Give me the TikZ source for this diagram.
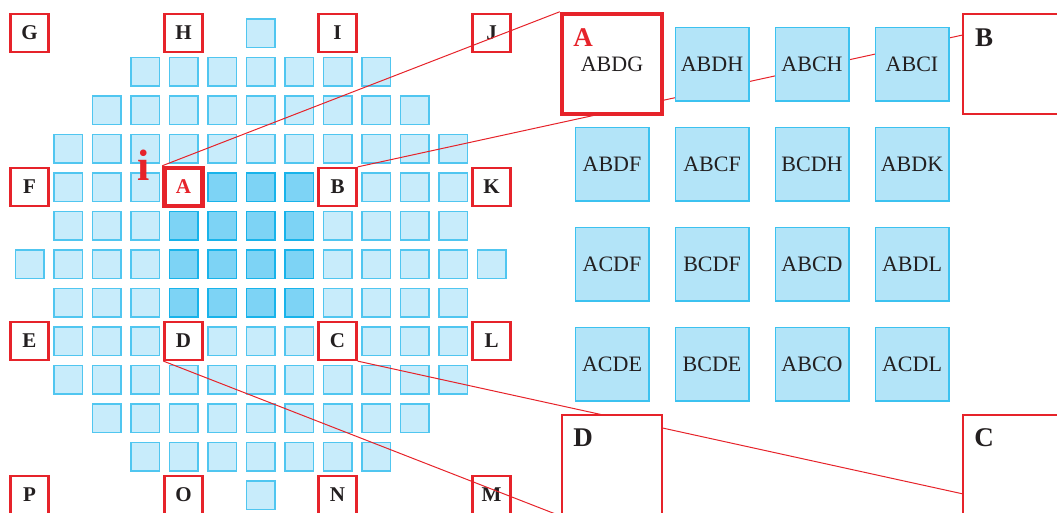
\documentclass[tikz,border=0pt]{standalone}
\usepackage{fontspec}
\setmainfont{Liberation Serif}
\definecolor{boxred}{HTML}{E6232A}
\definecolor{ink}{HTML}{231F20}
\definecolor{cellfill}{HTML}{C8ECFB}
\definecolor{cellstroke}{HTML}{50C6F0}
\definecolor{darkfill}{HTML}{7DD3F5}
\definecolor{darkstroke}{HTML}{18B3EA}
\definecolor{pfill}{HTML}{B3E4F8}
\definecolor{pstroke}{HTML}{3CC2F0}
\pgfdeclarelayer{front}
\pgfsetlayers{main,front}
\begin{document}
\begin{tikzpicture}[x=1pt,y=-1pt,
  lcell/.style={draw=cellstroke, fill=cellfill, line width=1.5pt, minimum size=28.5pt, inner sep=0pt, outer sep=0pt},
  dcell/.style={lcell, draw=darkstroke, fill=darkfill},
  lbox/.style={draw=boxred, fill=white, line width=2.2pt, minimum size=38pt, inner sep=0pt, text=ink, font=\bfseries\fontsize{21}{21}\selectfont},
  abox/.style={lbox, line width=4.5pt, text=boxred},
  pcell/.style={draw=pstroke, fill=pfill, line width=1.5pt, minimum size=73.5pt, inner sep=0pt, text=ink, font=\fontsize{22}{22}\selectfont},
  bigbox/.style={draw=boxred, fill=white, line width=2.2pt, minimum size=100pt, inner sep=0pt, text=ink, font=\fontsize{22}{22}\selectfont},
  biglbl/.style={inner sep=0pt, text=ink, font=\bfseries\fontsize{27}{27}\selectfont},
  zline/.style={draw=boxred, line width=1pt}]
\useasboundingbox (0,0) rectangle (1057,512);
% left grid
\foreach \r/\a/\b in {0/6/6,1/3/9,2/2/10,3/1/11,4/1/11,5/1/11,6/0/12,7/1/11,8/1/11,9/1/11,10/2/10,11/3/9,12/6/6}{
  \foreach \k in {\a,...,\b}{
    \pgfmathtruncatemacro\dk{(\r>=4)*(\r<=7)*(\k>=4)*(\k<=7)}
    \ifnum\dk=1
      \node[dcell] (c-\k-\r) at (29.5+38.5*\k, 33+38.5*\r) {};
    \else
      \node[lcell] (c-\k-\r) at (29.5+38.5*\k, 33+38.5*\r) {};
    \fi
  }
}
% letter boxes
\foreach \n/\k/\r in {G/0/0,H/4/0,I/8/0,J/12/0,F/0/4,B/8/4,K/12/4,E/0/8,D/4/8,C/8/8,L/12/8,P/0/12,O/4/12,N/8/12,M/12/12}{
  \node[lbox] (s\n) at (29.5+38.5*\k, 33+38.5*\r) {\n};
}
\node[abox] (sA) at (183.5,187) {A};
\node[anchor=base, inner sep=0pt, text=boxred, font=\bfseries\fontsize{44}{44}\selectfont] (info) at (143.5,180) {i};
% right panel
\begin{pgfonlayer}{front}
\node[bigbox, line width=4.5pt] (bigA) at (612,64) {ABDG};
\node[biglbl, text=boxred] (bigAl) at (583,37.5) {A};
\node[bigbox] (bigB) at (1013,64) {};
\node[biglbl] (bigBl) at (984,37.5) {B};
\node[bigbox] (bigD) at (612,465) {};
\node[biglbl] (bigDl) at (583,438) {D};
\node[bigbox] (bigC) at (1013,465) {};
\node[biglbl] (bigCl) at (984,438) {C};
\foreach \t/\k/\r in {ABDH/1/0,ABCH/2/0,ABCI/3/0,
  ABDF/0/1,ABCF/1/1,BCDH/2/1,ABDK/3/1,
  ACDF/0/2,BCDF/1/2,ABCD/2/2,ABDL/3/2,
  ACDE/0/3,BCDE/1/3,ABCO/2/3,ACDL/3/3}{
  \node[pcell] (p\t) at (612+100*\k, 64+100*\r) {\t};
}
\end{pgfonlayer}
% zoom lines
\draw[zline] (sA.north west) -- (bigA.north west);
\draw[zline] (sB.north east) -- (bigB.north east);
\draw[zline] (sD.south west) -- (bigD.south west);
\draw[zline] (sC.south east) -- (bigC.south east);
\end{tikzpicture}
\end{document}
